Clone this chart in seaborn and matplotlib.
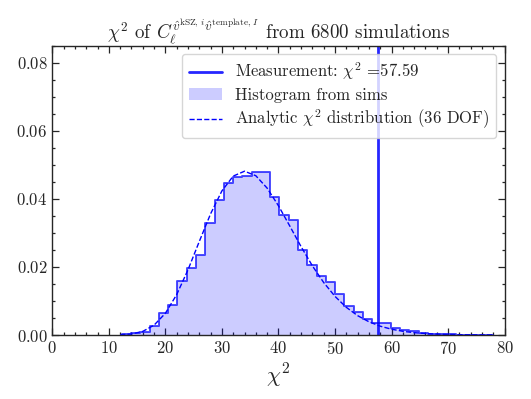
import numpy as np
import matplotlib
matplotlib.use("Agg")
import matplotlib.pyplot as plt
from matplotlib.lines import Line2D
from matplotlib.patches import Patch
from matplotlib.ticker import MultipleLocator
import seaborn as sns
import pandas as pd

# chi^2 histogram of the simulations (density per bin), 40 bins from 12.3 to 77.9
CHI2_MIN = 12.3
CHI2_MAX = 77.9
N_BINS = 40
SIM_DENSITY = [
    0.0002, 0.0005, 0.0010, 0.0027, 0.0064, 0.0088, 0.0159, 0.0198,
    0.0234, 0.0329, 0.0397, 0.0447, 0.0464, 0.0468, 0.0478, 0.0478,
    0.0404, 0.0352, 0.0338, 0.0250, 0.0205, 0.0172, 0.0157, 0.0120,
    0.0084, 0.0068, 0.0048, 0.0035, 0.0034, 0.0020, 0.0014, 0.0013,
    0.0007, 0.0004, 0.0003, 0.0002, 0.0001, 0.0001, 0.0000, 0.0001,
]

# analytic chi^2 (36 DOF) curve
CURVE_X = [12, 14, 16, 18, 20, 22, 24, 26, 28, 30, 32, 34, 36, 38, 40, 42, 44,
           46, 48, 50, 52, 54, 56, 58, 60, 62, 64, 66, 68, 70, 72, 74, 76, 78]
CURVE_Y = [0.00006, 0.00030, 0.00106, 0.00289, 0.00638, 0.01187, 0.01915,
           0.02749, 0.03562, 0.04234, 0.04669, 0.04812, 0.04679, 0.04315,
           0.03797, 0.03203, 0.02596, 0.02032, 0.01542, 0.01135, 0.00813,
           0.00569, 0.00389, 0.00259, 0.00170, 0.00109, 0.00069, 0.00043,
           0.00026, 0.00016, 0.00009, 0.00006, 0.00003, 0.00002]

MEASURED = 57.59
N_SIMS = 6800
DOF = 36

sns.set_style("ticks")
plt.rcParams["font.family"] = "serif"
plt.rcParams["font.serif"] = ["cmr10"]
plt.rcParams["mathtext.fontset"] = "cm"
plt.rcParams["axes.formatter.use_mathtext"] = True
plt.rcParams["axes.unicode_minus"] = False

edges = np.linspace(CHI2_MIN, CHI2_MAX, N_BINS + 1)
hist_df = pd.DataFrame({
    "chi2": 0.5 * (edges[:-1] + edges[1:]),
    "density": SIM_DENSITY,
})
bin_list = edges.tolist()

fig = plt.figure(figsize=(5.31, 3.99), dpi=100)
ax = fig.add_axes([0.0985, 0.1604, 0.8518, 0.7251])

sns.histplot(data=hist_df, x="chi2", weights="density", bins=bin_list,
             stat="count", element="bars", color="blue", alpha=0.2,
             linewidth=0, edgecolor="none", ax=ax)
sns.histplot(data=hist_df, x="chi2", weights="density", bins=bin_list,
             stat="count", element="step", fill=False, color="blue",
             alpha=0.7, linewidth=1.4, ax=ax)
sns.lineplot(x=CURVE_X, y=CURVE_Y, color="blue", linestyle="--",
             linewidth=1.0, ax=ax)
ax.axvline(MEASURED, color="blue", linewidth=2, alpha=0.85)

ax.set_xlim(0, 80)
ax.set_ylim(0, 0.085)
ax.xaxis.set_major_locator(MultipleLocator(10))
ax.xaxis.set_minor_locator(MultipleLocator(2))
ax.yaxis.set_major_locator(MultipleLocator(0.02))
ax.yaxis.set_minor_locator(MultipleLocator(0.005))
ax.tick_params(which="both", direction="in", top=True, right=True,
               labelsize=12, width=0.9)
ax.tick_params(which="major", length=5)
ax.tick_params(which="minor", length=2.5)
for s in ax.spines.values():
    s.set_linewidth(1.0)

ax.set_xlabel(r"$\chi^2$", fontsize=16)
ax.set_ylabel("")
ax.set_title(r"$\chi^2$ of $C_\ell^{\hat{v}^{\mathrm{kSZ},\,i}\hat{v}^{\mathrm{template},\,I}}$"
             f" from {N_SIMS} simulations", fontsize=13.7, pad=4)

handles = [
    Line2D([], [], color="blue", linewidth=2, alpha=0.85),
    Patch(facecolor="blue", alpha=0.2, edgecolor="none"),
    Line2D([], [], color="blue", linestyle="--", linewidth=1.0),
]
labels = [
    r"Measurement: $\chi^2$ =" + f"{MEASURED:.2f}",
    "Histogram from sims",
    r"Analytic $\chi^2$ distribution" + f" ({DOF} DOF)",
]
ax.legend(handles, labels, loc="upper right", fontsize=12,
          handlelength=2, labelspacing=0.3)

fig.savefig("out.png", dpi=100)
